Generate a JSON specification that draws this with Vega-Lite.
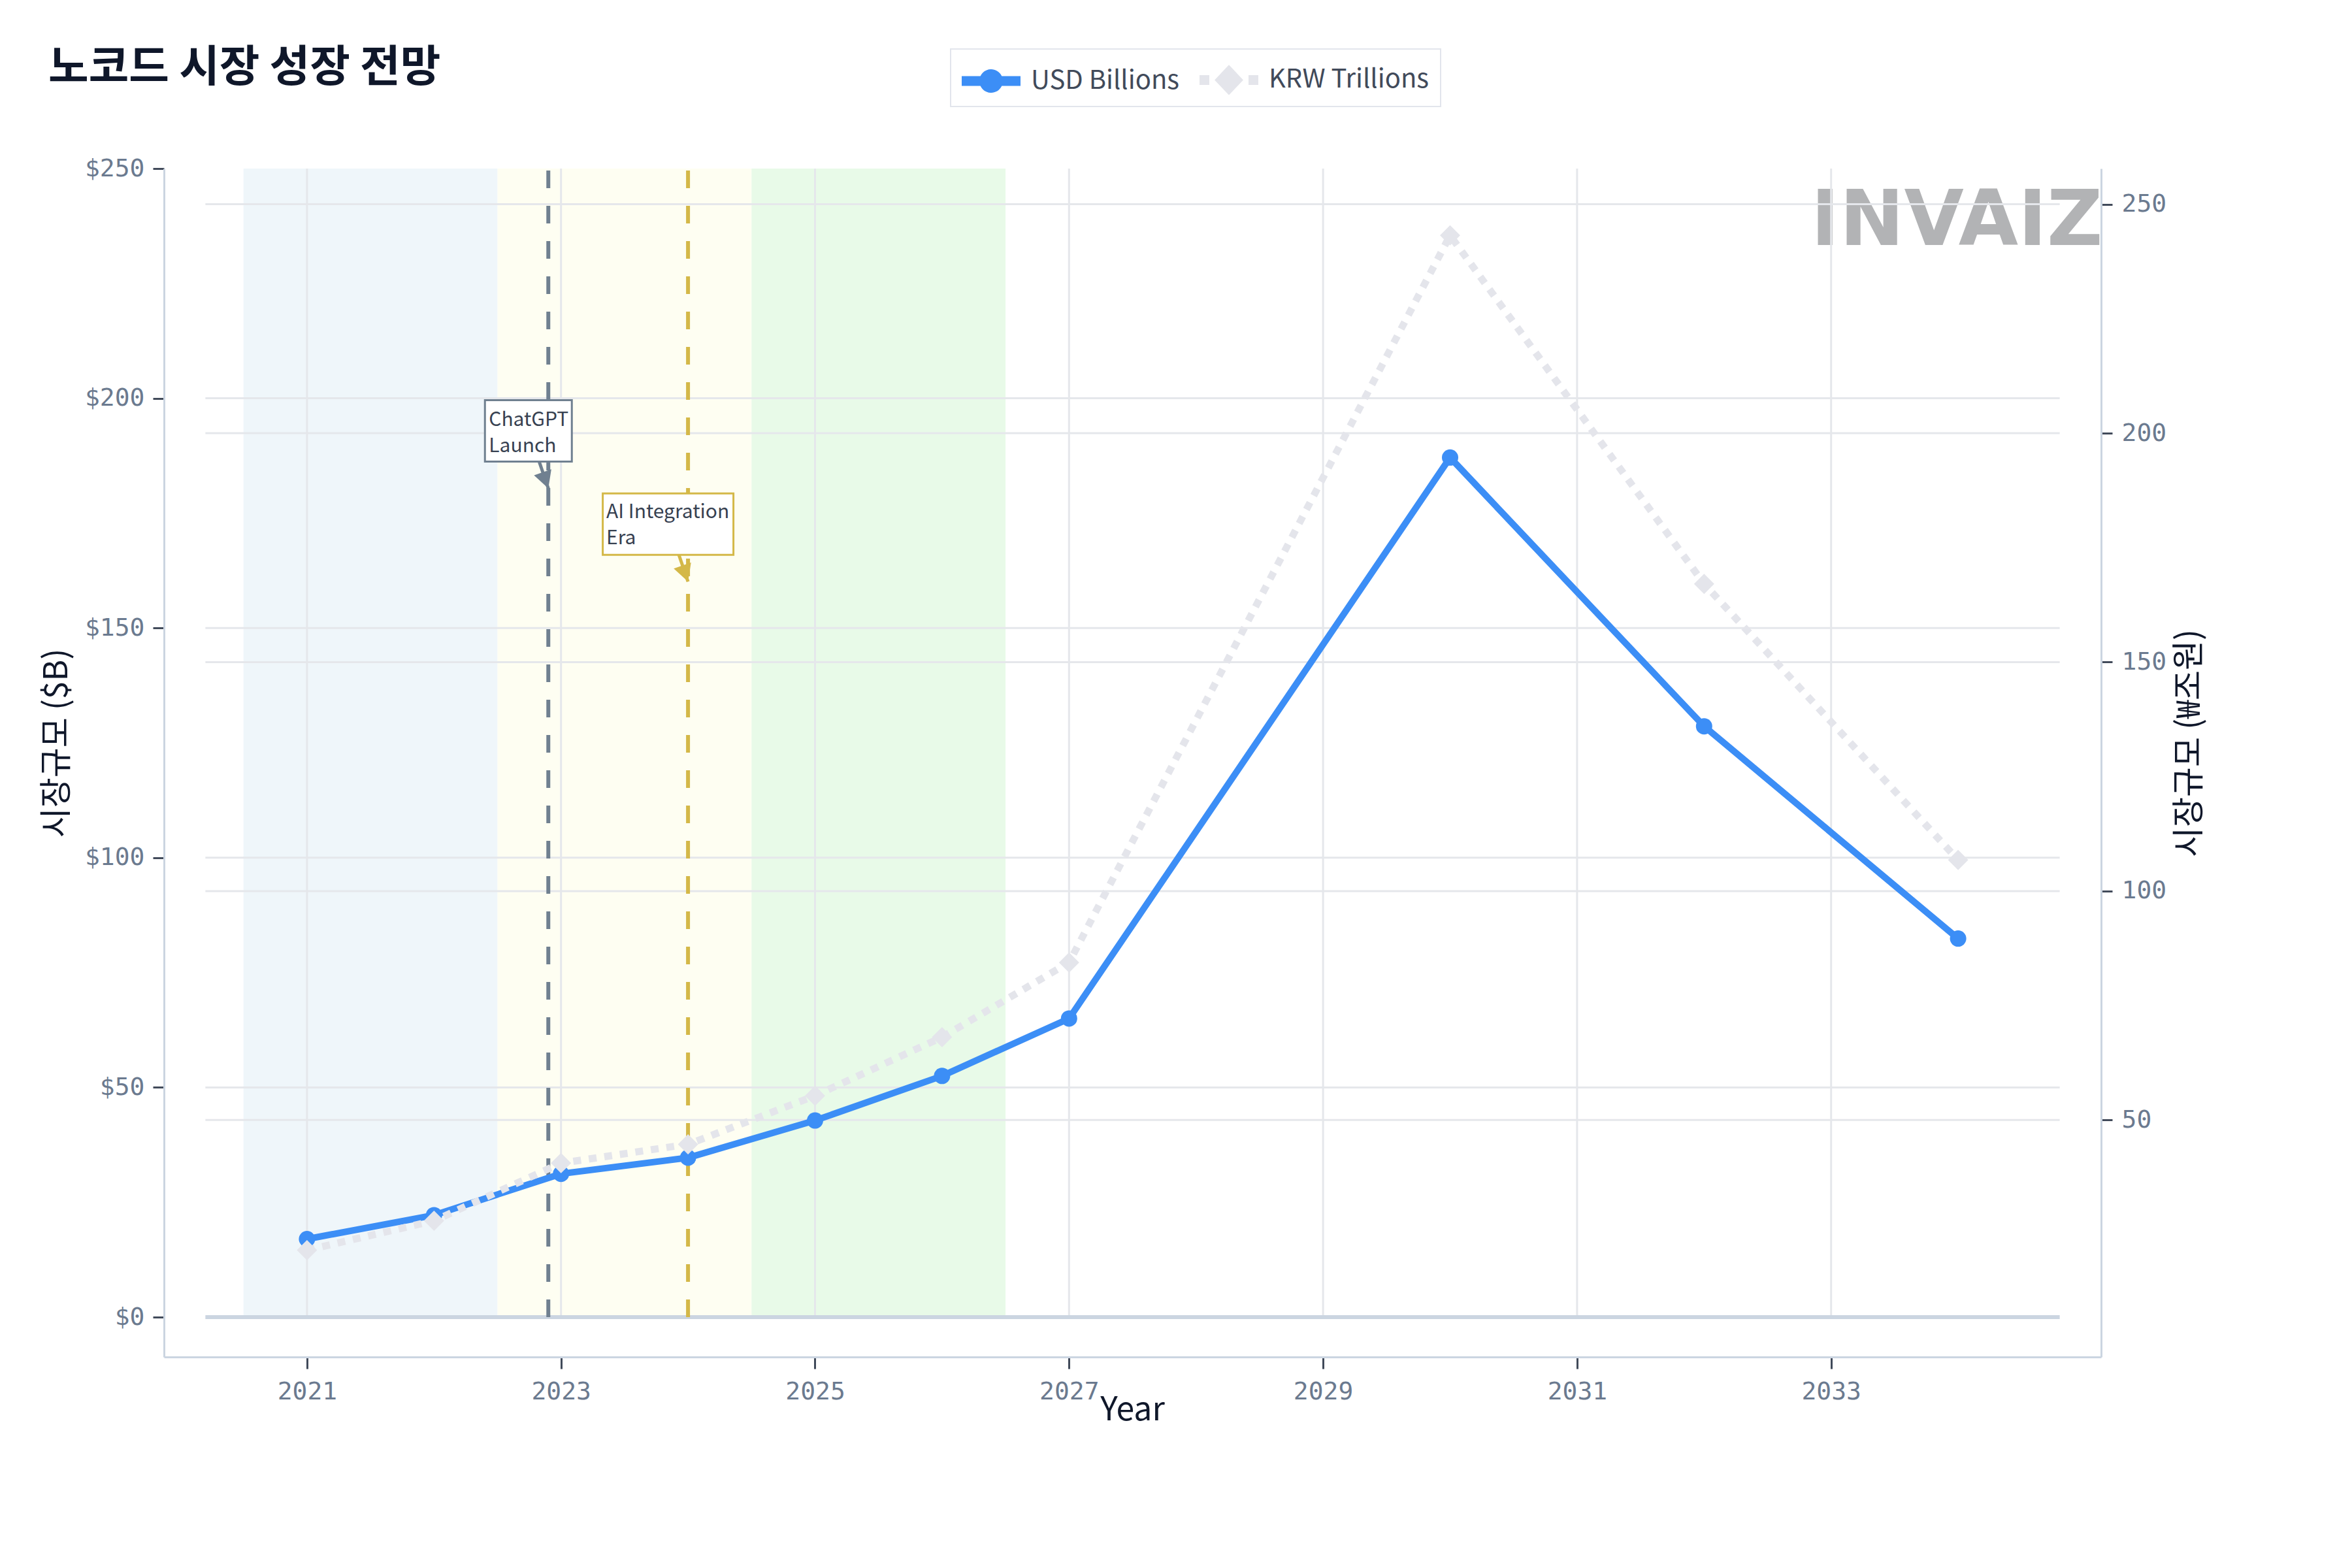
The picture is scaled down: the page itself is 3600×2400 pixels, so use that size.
{
  "$schema": "https://vega.github.io/schema/vega-lite/v6.json",
  "width": 2965,
  "height": 1819,
  "autosize": {"type": "none"},
  "padding": {"left": 251, "top": 258, "right": 384, "bottom": 323},
  "background": "white",
  "title": {
    "text": "노코드 시장 성장 전망",
    "anchor": "start",
    "frame": "group",
    "dx": -177,
    "offset": 0,
    "dy": 118,
    "baseline": "alphabetic",
    "font": "Noto Sans CJK KR",
    "fontSize": 67,
    "fontWeight": "bold",
    "color": "#0F172A"
  },
  "datasets": {
    "market": [
      {"year": 2021, "usd": 17.0, "krw": 21.6},
      {"year": 2022, "usd": 22.2, "krw": 28.0},
      {"year": 2023, "usd": 31.2, "krw": 40.6},
      {"year": 2024, "usd": 34.7, "krw": 44.7},
      {"year": 2025, "usd": 42.8, "krw": 55.3},
      {"year": 2026, "usd": 52.5, "krw": 68.1},
      {"year": 2027, "usd": 65.0, "krw": 84.4},
      {"year": 2030, "usd": 187.1, "krw": 243.2},
      {"year": 2032, "usd": 128.6, "krw": 167.1},
      {"year": 2034, "usd": 82.4, "krw": 106.8}
    ],
    "phases": [
      {"phase": "2021–2022", "start": 2020.5, "end": 2022.5},
      {"phase": "2023–2024", "start": 2022.5, "end": 2024.5},
      {"phase": "2025–2026", "start": 2024.5, "end": 2026.5}
    ],
    "events": [
      {"event": "ChatGPT Launch", "label": "ChatGPT\nLaunch", "year": 2022.9, "target": 180.4},
      {"event": "AI Integration Era", "label": "AI Integration\nEra", "year": 2024, "target": 160.1}
    ],
    "xticks": [{"year": 2021}, {"year": 2023}, {"year": 2025}, {"year": 2027}, {"year": 2029}, {"year": 2031}, {"year": 2033}],
    "leftGrid": [{"value": 50}, {"value": 100}, {"value": 150}, {"value": 200}],
    "rightGrid": [{"value": 50}, {"value": 100}, {"value": 150}, {"value": 200}, {"value": 250}]
  },
  "layer": [
    {
      "layer": [
        {
          "data": {"name": "phases"},
          "mark": {"type": "rect"},
          "encoding": {
            "x": {
              "field": "start", "type": "quantitative",
              "scale": {"domain": [2019.874, 2035.126], "nice": false, "zero": false},
              "axis": {
                "title": "Year", "values": [2021, 2023, 2025, 2027, 2029, 2031, 2033], "format": "d",
                "tickSize": 18, "labelPadding": 35, "labelBaseline": "middle", "labelFlush": false, "labelOverlap": false,
                "titleX": 1482, "titleY": 81, "titleAlign": "center", "titleBaseline": "middle", "titleFontSize": 50
              }
            },
            "x2": {"field": "end"},
            "y": {
              "datum": 0, "type": "quantitative",
              "scale": {"domain": [-8.67, 250], "nice": false, "zero": false},
              "axis": {
                "title": "시장규모 ($B)", "orient": "left", "values": [0, 50, 100, 150, 200, 250],
                "labelExpr": "'$' + datum.value", "labelPadding": 13, "labelFlush": false,
                "titleX": -164, "titleY": 879, "titleAngle": 270, "titleAlign": "center", "titleBaseline": "middle"
              }
            },
            "y2": {"datum": 250},
            "fill": {
              "field": "phase", "type": "nominal", "legend": null,
              "scale": {
                "domain": ["2021–2022", "2023–2024", "2025–2026", "ChatGPT Launch", "AI Integration Era"],
                "range": ["#EFF6FA", "#FEFEF2", "#E8FAE8", "#708090", "#D4B848"]
              }
            }
          }
        },
        {
          "data": {"values": [{}]},
          "mark": {"type": "text", "text": "INVAIZ", "font": "DejaVu Sans", "fontWeight": "bold", "fontSize": 118, "color": "#B2B3B5", "align": "center", "baseline": "alphabetic"},
          "encoding": {
            "x": {"datum": 2033.99, "type": "quantitative", "scale": {"domain": [2019.874, 2035.126], "nice": false, "zero": false}},
            "y": {"datum": 233.3, "type": "quantitative", "scale": {"domain": [-8.67, 250], "nice": false, "zero": false}}
          }
        },
        {
          "data": {"name": "xticks"},
          "mark": {"type": "rule", "stroke": "#E5E7EB", "strokeWidth": 3},
          "encoding": {
            "x": {"field": "year", "type": "quantitative", "scale": {"domain": [2019.874, 2035.126], "nice": false, "zero": false}},
            "y": {"datum": 0, "type": "quantitative", "scale": {"domain": [-8.67, 250], "nice": false, "zero": false}},
            "y2": {"datum": 250}
          }
        },
        {
          "data": {"name": "leftGrid"},
          "mark": {"type": "rule", "stroke": "#E5E7EB", "strokeWidth": 3},
          "encoding": {
            "x": {"datum": 2020.2, "type": "quantitative", "scale": {"domain": [2019.874, 2035.126], "nice": false, "zero": false}},
            "x2": {"datum": 2034.8},
            "y": {"field": "value", "type": "quantitative", "scale": {"domain": [-8.67, 250], "nice": false, "zero": false}}
          }
        },
        {
          "data": {"values": [{}]},
          "mark": {"type": "rule", "stroke": "#CBD5E1", "strokeWidth": 6},
          "encoding": {
            "x": {"datum": 2020.2, "type": "quantitative", "scale": {"domain": [2019.874, 2035.126], "nice": false, "zero": false}},
            "x2": {"datum": 2034.8},
            "y": {"datum": 0, "type": "quantitative", "scale": {"domain": [-8.67, 250], "nice": false, "zero": false}}
          }
        }
      ]
    },
    {
      "data": {"name": "rightGrid"},
      "mark": {"type": "rule", "stroke": "#E5E7EB", "strokeWidth": 3},
      "encoding": {
        "x": {"datum": 2020.2, "type": "quantitative", "scale": {"domain": [2019.874, 2035.126], "nice": false, "zero": false}},
        "x2": {"datum": 2034.8},
        "y": {
          "field": "value", "type": "quantitative",
          "scale": {"domain": [-1.74, 257.79], "nice": false, "zero": false},
          "axis": {
            "title": "시장규모 (₩조원)", "orient": "right", "values": [50, 100, 150, 200, 250],
            "labelPadding": 14, "labelFlush": false,
            "titleX": 135, "titleY": 879, "titleAngle": 270, "titleAlign": "center", "titleBaseline": "middle"
          }
        }
      }
    },
    {
      "layer": [
        {
          "data": {"name": "events"},
          "mark": {"type": "rule", "strokeWidth": 6, "strokeDash": [27, 27]},
          "encoding": {
            "x": {"field": "year", "type": "quantitative", "scale": {"domain": [2019.874, 2035.126], "nice": false, "zero": false}},
            "y": {"datum": 0, "type": "quantitative", "scale": {"domain": [-8.67, 250], "nice": false, "zero": false}, "axis": null},
            "y2": {"datum": 250},
            "stroke": {"field": "event", "type": "nominal", "legend": null, "scale": {"domain": ["ChatGPT Launch", "AI Integration Era"], "range": ["#708090", "#D4B848"]}}
          }
        },
        {
          "data": {"name": "events"},
          "mark": {"type": "rule", "strokeWidth": 5, "x2Offset": -14, "y2Offset": -41},
          "encoding": {
            "x": {"field": "year", "type": "quantitative", "scale": {"domain": [2019.874, 2035.126], "nice": false, "zero": false}},
            "x2": {"field": "year"},
            "y": {"field": "target", "type": "quantitative", "scale": {"domain": [-8.67, 250], "nice": false, "zero": false}, "axis": null},
            "y2": {"field": "target"},
            "stroke": {"field": "event", "type": "nominal", "legend": null, "scale": {"domain": ["ChatGPT Launch", "AI Integration Era"], "range": ["#708090", "#D4B848"]}}
          }
        },
        {
          "data": {"name": "events"},
          "mark": {"type": "point", "shape": "M0,0L-0.54,-1L0.54,-1Z", "size": 2704, "angle": -19.4, "filled": true, "opacity": 1, "strokeWidth": 0},
          "encoding": {
            "x": {"field": "year", "type": "quantitative", "scale": {"domain": [2019.874, 2035.126], "nice": false, "zero": false}},
            "y": {"field": "target", "type": "quantitative", "scale": {"domain": [-8.67, 250], "nice": false, "zero": false}, "axis": null},
            "fill": {
              "field": "event", "type": "nominal", "legend": null,
              "scale": {
                "domain": ["2021–2022", "2023–2024", "2025–2026", "ChatGPT Launch", "AI Integration Era"],
                "range": ["#EFF6FA", "#FEFEF2", "#E8FAE8", "#708090", "#D4B848"]
              }
            }
          }
        },
        {
          "data": {"name": "events"},
          "mark": {"type": "point", "filled": true, "fill": "white", "size": 400, "strokeWidth": 3, "opacity": 1, "fillOpacity": 1, "strokeOpacity": 1, "xOffset": -30.5, "yOffset": -88},
          "encoding": {
            "x": {"field": "year", "type": "quantitative", "scale": {"domain": [2019.874, 2035.126], "nice": false, "zero": false}},
            "y": {"field": "target", "type": "quantitative", "scale": {"domain": [-8.67, 250], "nice": false, "zero": false}, "axis": null},
            "shape": {
              "field": "event", "type": "nominal", "legend": null,
              "scale": {"domain": ["ChatGPT Launch", "AI Integration Era"], "range": ["M-6.65,-4.7H6.65V4.7H-6.65Z", "M-10,-4.7H10V4.7H-10Z"]}
            },
            "stroke": {"field": "event", "type": "nominal", "legend": null, "scale": {"domain": ["ChatGPT Launch", "AI Integration Era"], "range": ["#708090", "#D4B848"]}}
          }
        },
        {
          "data": {"name": "events"},
          "transform": [{"filter": "datum.event === 'ChatGPT Launch'"}],
          "mark": {"type": "text", "align": "left", "baseline": "alphabetic", "dx": -91, "dy": -95, "font": "Noto Sans CJK KR", "fontSize": 30, "lineHeight": 40, "lineBreak": "\n", "color": "#374151"},
          "encoding": {
            "x": {"field": "year", "type": "quantitative", "scale": {"domain": [2019.874, 2035.126], "nice": false, "zero": false}},
            "y": {"field": "target", "type": "quantitative", "scale": {"domain": [-8.67, 250], "nice": false, "zero": false}, "axis": null},
            "text": {"field": "label"}
          }
        },
        {
          "data": {"name": "events"},
          "transform": [{"filter": "datum.event === 'AI Integration Era'"}],
          "mark": {"type": "text", "align": "left", "baseline": "alphabetic", "dx": -125, "dy": -97, "font": "Noto Sans CJK KR", "fontSize": 30, "lineHeight": 40, "lineBreak": "\n", "color": "#374151"},
          "encoding": {
            "x": {"field": "year", "type": "quantitative", "scale": {"domain": [2019.874, 2035.126], "nice": false, "zero": false}},
            "y": {"field": "target", "type": "quantitative", "scale": {"domain": [-8.67, 250], "nice": false, "zero": false}, "axis": null},
            "text": {"field": "label"}
          }
        },
        {
          "data": {"name": "market"},
          "mark": {"type": "line", "strokeWidth": 10, "point": {"filled": true, "size": 625, "opacity": 1}},
          "encoding": {
            "x": {"field": "year", "type": "quantitative", "scale": {"domain": [2019.874, 2035.126], "nice": false, "zero": false}},
            "y": {"field": "usd", "type": "quantitative", "scale": {"domain": [-8.67, 250], "nice": false, "zero": false}, "axis": null},
            "color": {
              "datum": "USD Billions", "type": "nominal",
              "scale": {"domain": ["USD Billions", "KRW Trillions"], "range": ["#3C8EF6", "#E4E5EB"]},
              "legend": {
                "orient": "none", "legendX": 1204, "legendY": -183, "direction": "horizontal", "title": null,
                "padding": 17, "columnPadding": 30, "symbolSize": 3600, "symbolOffset": 15, "labelOffset": 31,
                "labelFont": "Noto Sans CJK KR", "labelFontSize": 40, "labelColor": "#414A5A", "labelLimit": 500,
                "strokeColor": "#E2E5EC", "fillColor": "white", "symbolStrokeWidth": 0,
                "encode": {
                  "legend": {"update": {"strokeWidth": {"value": 2}}},
                  "symbols": {
                    "update": {
                      "shape": {"signal": "datum.value === 'USD Billions' ? 'M-1.5,-0.25H1.5V0.25H-1.5Z M-0.6,0A0.6,0.6 0 1,1 0.6,0A0.6,0.6 0 1,1 -0.6,0Z' : 'M-1.5,-0.25H-1V0.25H-1.5Z M1,-0.25H1.5V0.25H1Z M0,-0.77L0.73,0L0,0.77L-0.73,0Z'"},
                      "fill": {"signal": "datum.value === 'USD Billions' ? '#3C8EF6' : '#E4E5EB'"},
                      "fillOpacity": {"value": 1},
                      "opacity": {"value": 1},
                      "strokeWidth": {"value": 0}
                    }
                  }
                }
              }
            }
          }
        }
      ]
    },
    {
      "data": {"name": "market"},
      "mark": {"type": "line", "strokeWidth": 11, "strokeDash": [12, 12], "point": {"filled": true, "shape": "diamond", "size": 961, "opacity": 1}},
      "encoding": {
        "x": {"field": "year", "type": "quantitative", "scale": {"domain": [2019.874, 2035.126], "nice": false, "zero": false}},
        "y": {"field": "krw", "type": "quantitative", "scale": {"domain": [-1.74, 257.79], "nice": false, "zero": false}, "axis": null},
        "color": {"datum": "KRW Trillions", "type": "nominal", "scale": {"domain": ["USD Billions", "KRW Trillions"], "range": ["#3C8EF6", "#E4E5EB"]}}
      }
    }
  ],
  "resolve": {"scale": {"y": "independent"}},
  "config": {
    "view": {"stroke": null},
    "font": "Noto Sans CJK KR",
    "axis": {
      "labelFont": "DejaVu Sans Mono",
      "labelFontSize": 38,
      "labelColor": "#6B7A8F",
      "tickColor": "#414A5A",
      "tickWidth": 3,
      "tickSize": 17,
      "domainColor": "#CBD5E1",
      "domainWidth": 3,
      "grid": false,
      "titleFont": "Noto Sans CJK KR",
      "titleFontSize": 50,
      "titleFontWeight": "normal",
      "titleColor": "#0F172A"
    }
  }
}
